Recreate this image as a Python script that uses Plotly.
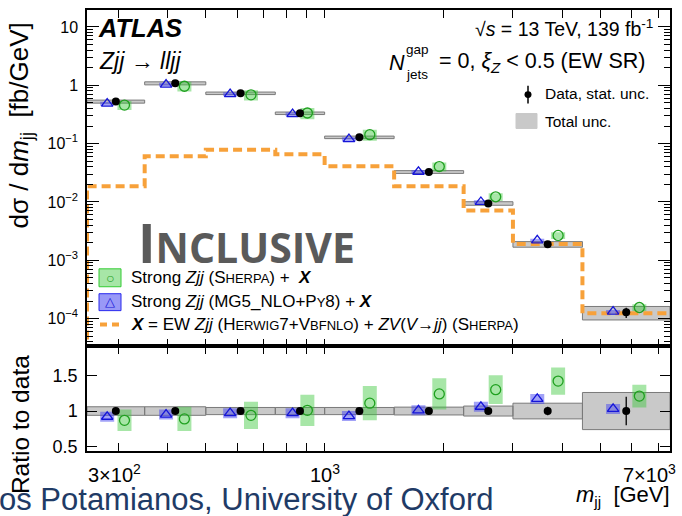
import numpy as np
import plotly.graph_objects as go

# ---- binning and measured values -------------------------------------------
mjj_edges = [250, 350, 500, 750, 1000, 1500, 2250, 3000, 4500, 7500]
data_xs = [0.525, 1.08, 0.728, 0.331, 0.128, 0.0326, 0.00942, 0.00188, 0.000128]
data_stat = [0.01, 0.01, 0.01, 0.015, 0.015, 0.02, 0.03, 0.06, 0.20]      # relative
total_unc = [0.06, 0.06, 0.05, 0.05, 0.05, 0.055, 0.07, 0.11, 0.26]        # relative

# ratios of predictions to data (with their uncertainties)
sherpa_ratio = [0.87, 0.89, 0.94, 1.01, 1.11, 1.24, 1.30, 1.42, 1.21]
sherpa_err = [0.15, 0.17, 0.19, 0.22, 0.24, 0.22, 0.20, 0.19, 0.16]
mg5_ratio = [0.92, 0.95, 0.97, 0.97, 0.93, 1.01, 1.06, 1.17, 1.03]
mg5_err = [0.07, 0.07, 0.07, 0.07, 0.07, 0.07, 0.07, 0.07, 0.07]

# EW Zjj + ZV component
ew_xs = [0.0186, 0.0605, 0.0787, 0.0655, 0.0408, 0.0186, 0.00716, 0.0019, 0.000123]

main_ytickvals = [1e-4, 1e-3, 1e-2, 1e-1, 1, 10]
main_yticktext = ["10<sup>\u22124</sup>", "10<sup>\u22123</sup>", "10<sup>\u22122</sup>",
                  "10<sup>\u22121</sup>", "1", "10"]
xtickvals = [300, 1000, 7000]
xticktext = ["3\u00d710<sup>2</sup>", "10<sup>3</sup>", "7\u00d710<sup>3</sup>"]
xtick_shift = [-4, 0, -9]

# ---- figure geometry (pixels) ---------------------------------------------------
W, H = 682, 516
L, R, T, B = 87, 670, 8, 451
SPLIT = 346
FONT = "Liberation Sans, Arial, sans-serif"

def px(x):
    return (x - L) / (R - L)

def py(y):
    return (B - y) / (B - T)

edges = np.array(mjj_edges, dtype=float)
lo, hi = edges[:-1], edges[1:]
centres = np.sqrt(lo * hi)
logw = np.log10(hi / lo)
dpx = (R - L) / (np.log10(edges[-1]) - np.log10(edges[0]))   # px per decade
x_mg5 = centres / 10 ** (0.15 * logw)
x_she = centres * 10 ** (0.15 * logw)
half_box = 10 ** (7.0 / dpx)                                   # 7 px half width

data_xs = np.array(data_xs)
sherpa_ratio = np.array(sherpa_ratio)
sherpa_err = np.array(sherpa_err)
mg5_ratio = np.array(mg5_ratio)
mg5_err = np.array(mg5_err)
total_unc = np.array(total_unc)
data_stat = np.array(data_stat)


def rects(x0, x1, y0, y1):
    xs, ys = [], []
    for a, b, c, d in zip(x0, x1, y0, y1):
        xs += [a, b, b, a, a, None]
        ys += [c, c, d, d, c, None]
    return xs, ys


fig = go.Figure()

GREEN_FILL = "rgba(60,200,60,0.45)"
GREEN_LINE = "#1fa01f"
BLUE_FILL = "rgba(70,70,240,0.50)"
BLUE_LINE = "#1515d8"
GREY_FILL = "#c9c9c9"
GREY_LINE = "#7a7a7a"
ORANGE = "#f7a13a"


def add_panel(xa, ya, ref, scale):
    # total uncertainty band
    gx, gy = rects(lo, hi, ref * (1 - total_unc), ref * (1 + total_unc))
    fig.add_trace(go.Scatter(x=gx, y=gy, mode="lines", fill="toself", fillcolor=GREY_FILL,
                             line=dict(color=GREY_LINE, width=1), xaxis=xa, yaxis=ya,
                             hoverinfo="skip", showlegend=False))
    if ya == "y":
        step_x = [edges[0]] + list(edges)
        step_y = [1e-7] + list(ew_xs) + [ew_xs[-1]]
        fig.add_trace(go.Scatter(x=step_x, y=step_y, mode="lines", line_shape="hv",
                                 line=dict(color=ORANGE, width=4, dash="9px,5px"),
                                 xaxis=xa, yaxis=ya, hoverinfo="skip", showlegend=False))
    # MG5 uncertainty boxes
    bx, by = rects(x_mg5 / half_box, x_mg5 * half_box,
                   scale * (mg5_ratio - mg5_err), scale * (mg5_ratio + mg5_err))
    fig.add_trace(go.Scatter(x=bx, y=by, mode="lines", fill="toself", fillcolor=BLUE_FILL,
                             line=dict(width=0), xaxis=xa, yaxis=ya,
                             hoverinfo="skip", showlegend=False))
    # Sherpa uncertainty boxes
    sx, sy = rects(x_she / half_box, x_she * half_box,
                   scale * (sherpa_ratio - sherpa_err), scale * (sherpa_ratio + sherpa_err))
    fig.add_trace(go.Scatter(x=sx, y=sy, mode="lines", fill="toself", fillcolor=GREEN_FILL,
                             line=dict(width=0), xaxis=xa, yaxis=ya,
                             hoverinfo="skip", showlegend=False))
    fig.add_trace(go.Scatter(x=x_mg5, y=scale * mg5_ratio, mode="markers",
                             marker=dict(symbol="triangle-up-open", size=10,
                                         color=BLUE_LINE, line=dict(width=1.3)),
                             xaxis=xa, yaxis=ya, showlegend=False))
    fig.add_trace(go.Scatter(x=x_she, y=scale * sherpa_ratio, mode="markers",
                             marker=dict(symbol="circle-open", size=10,
                                         color=GREEN_LINE, line=dict(width=1.3)),
                             xaxis=xa, yaxis=ya, showlegend=False))
    fig.add_trace(go.Scatter(x=centres, y=ref, mode="markers",
                             marker=dict(symbol="circle", size=8, color="black"),
                             error_y=dict(type="data", array=ref * data_stat,
                                          color="black", thickness=1.3, width=0),
                             xaxis=xa, yaxis=ya, showlegend=False))


add_panel("x", "y", data_xs, data_xs)
add_panel("x2", "y2", np.ones_like(data_xs), np.ones_like(data_xs))

x_minor = [400, 500, 600, 700, 800, 900, 2000, 3000, 4000, 5000, 6000]
y_minor = [m * 10.0 ** e for e in range(-5, 2) for m in range(2, 10)]

axis_common = dict(showline=True, linecolor="black", linewidth=1.5, ticks="inside",
                   mirror="allticks", showgrid=False, zeroline=False,
                   tickcolor="black", tickwidth=1.3)

xr = [np.log10(edges[0]), np.log10(edges[-1])]
fig.update_layout(
    width=W, height=H,
    margin=dict(l=L, r=W - R, t=T, b=H - B),
    paper_bgcolor="white", plot_bgcolor="white",
    font=dict(family=FONT, color="black", size=16),
    showlegend=False,
    xaxis=dict(type="log", range=xr, domain=[0, 1], anchor="y", showticklabels=False,
               tickvals=xtickvals, ticklen=8,
               minor=dict(tickvals=x_minor, ticks="inside", ticklen=8, tickcolor="black"),
               **axis_common),
    yaxis=dict(type="log", range=[-4.478, 1.29], domain=[py(SPLIT), 1], anchor="x",
               tickvals=main_ytickvals, ticktext=main_yticktext, ticklen=12,
               tickfont=dict(size=16), ticklabelstandoff=4,
               minor=dict(tickvals=y_minor, ticks="inside", ticklen=6, tickcolor="black"),
               **axis_common),
    xaxis2=dict(type="log", range=xr, domain=[0, 1], anchor="y2", showticklabels=False,
                tickvals=xtickvals, ticklen=8,
                minor=dict(tickvals=x_minor, ticks="inside", ticklen=8, tickcolor="black"),
                **axis_common),
    yaxis2=dict(range=[0.44, 1.905], domain=[0, py(SPLIT)], anchor="x2",
                tickvals=[0.5, 1, 1.5], ticktext=["0.5", "1", "1.5"], ticklen=10,
                tickfont=dict(size=18), ticklabelstandoff=4,
                **axis_common),
)

ann = []


def text(x, y, s, size, xanchor="left", yanchor="middle", color="black", angle=0, family=FONT):
    ann.append(dict(x=px(x), y=py(y), xref="paper", yref="paper", text=s, showarrow=False,
                    xanchor=xanchor, yanchor=yanchor, textangle=angle,
                    font=dict(size=size, color=color, family=family)))


# x tick labels of the ratio panel, placed on the x2 scale
for v, t, s in zip(xtickvals, xticktext, xtick_shift):
    ann.append(dict(x=np.log10(v), xref="x2", y=py(459), yref="paper", text=t,
                    showarrow=False, xanchor="center", yanchor="top", xshift=s,
                    font=dict(size=20, family=FONT, color="black")))

sc = "<span style='font-size:13px'>"
# labels inside the main panel
text(96, 26, "<b><i>ATLAS</i></b>", 25.5)
text(97, 59, "<i>Zjj</i> \u2192 <i>lljj</i>", 23)
text(655, 26, "\u221a<i>s</i> = 13 TeV, 139 fb<sup>-1</sup>", 19.5, xanchor="right")
text(387, 61, "<i>N</i>", 21.5)
text(404, 48, "gap", 13.5)
text(404, 73, "jets", 13.5)
text(437, 61, "= 0, <i>\u03be<sub>Z</sub></i> < 0.5 (EW SR)", 21.5)
text(543, 92, "Data, stat. unc.", 15.5)
text(543, 120, "Total unc.", 15.5)
text(129, 277, "Strong <i>Zjj</i> (S" + sc + "HERPA</span>) +  <b><i>X</i></b>", 17)
text(129, 301, "Strong <i>Zjj</i> (MG5_NLO+P" + sc + "Y</span>8) + <b><i>X</i></b>", 17)
text(129, 324, "<b><i>X</i></b> = EW <i>Zjj</i> (H" + sc + "ERWIG</span>7+V" + sc +
     "BFNLO</span>) + <i>ZV</i>(<i>V</i>\u2192<i>jj</i>) (S" + sc + "HERPA</span>)", 17)
text(136, 242, "<b>I<span style='font-size:41px'>NCLUSIVE</span></b>", 53,
     color="#5a5a5a", family="Open Sans, sans-serif")
# axis titles
text(20, 124, "d\u03c3 / d<i>m</i><sub>jj</sub>  [fb/GeV]", 26, xanchor="center", angle=-90)
text(20, 425, "Ratio to data", 24.5, xanchor="center", angle=-90)
text(672, 496, "<i>m</i><sub>jj</sub>  [GeV]", 22, xanchor="right")
# footer
text(-3, 500, "os Potamianos, University of Oxford", 31, color="#1f3b66")

# legend glyphs
shapes = []


def prect(x0, y0, x1, y1, fill, line):
    shapes.append(dict(type="rect", xref="paper", yref="paper", x0=px(x0), x1=px(x1),
                       y0=py(y0), y1=py(y1), fillcolor=fill, line=dict(color=line, width=1)))


prect(516, 112, 537, 127, GREY_FILL, GREY_FILL)
shapes.append(dict(type="line", xref="paper", yref="paper", x0=px(528), x1=px(528),
                   y0=py(84), y1=py(102), line=dict(color="black", width=1.5)))
shapes.append(dict(type="circle", xref="paper", yref="paper", x0=px(524.5), x1=px(531.5),
                   y0=py(89.5), y1=py(96.5), fillcolor="black", line=dict(color="black", width=0)))
prect(99, 268, 121, 286, "rgba(60,200,60,0.45)", "#33cc33")
prect(99, 293, 121, 310, "rgba(70,70,240,0.55)", "#2a2aee")
shapes.append(dict(type="line", xref="paper", yref="paper", x0=px(100), x1=px(121),
                   y0=py(324), y1=py(324),
                   line=dict(color=ORANGE, width=4, dash="7px,5px")))
fig.update_layout(shapes=shapes)
text(110, 277, "\u25cb", 14, xanchor="center", color=GREEN_LINE)
text(110, 301, "\u25b3", 13, xanchor="center", color=BLUE_LINE)
fig.update_layout(annotations=ann)

fig.write_html("out.html")
